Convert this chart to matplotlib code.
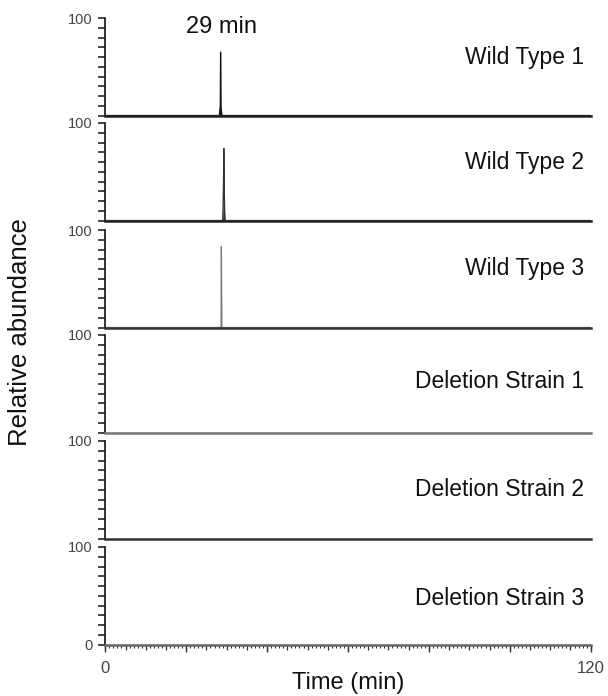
import numpy as np
import matplotlib.pyplot as plt
from matplotlib.ticker import FixedLocator, FuncFormatter, NullLocator

plt.rcParams['font.family'] = ['Liberation Sans', 'DejaVu Sans']

# sample names, one panel each
samples = ["Wild Type 1", "Wild Type 2", "Wild Type 3",
           "Deletion Strain 1", "Deletion Strain 2", "Deletion Strain 3"]

# chromatogram traces (time in min, relative abundance in %)
wt1_time = [0, 28.2, 28.3, 28.42, 28.5, 28.58, 28.7, 28.8, 120]
wt1_int = [0, 0, 6, 9, 65, 9, 6, 0, 0]
wt2_time = [0, 29.0, 29.1, 29.2, 29.3, 29.42, 29.5, 29.6, 120]
wt2_int = [0, 0, 12, 32, 74, 32, 10, 0, 0]
wt3_time = [0, 28.62, 28.7, 28.78, 120]
wt3_int = [0, 0, 83, 0, 0]
del1_time = [0, 120]
del1_int = [0, 0]
del2_time = [0, 120]
del2_int = [0, 0]
del3_time = [0, 120]
del3_int = [0, 0]

traces = [(wt1_time, wt1_int), (wt2_time, wt2_int), (wt3_time, wt3_int),
          (del1_time, del1_int), (del2_time, del2_int), (del3_time, del3_int)]
trace_colors = ["#111111", "#333333", "#777777", "#333333", "#333333", "#333333"]
base_colors = ["#222222", "#222222", "#333333", "#777777", "#333333", "#666666"]
label_y = [0.59, 0.59, 0.61, 0.52, 0.50, 0.47]

y_ticks = np.arange(0, 101, 10)
x_major = np.arange(0, 121, 20)
x_mid = np.arange(0, 121, 5)
x_minor = np.arange(0, 121, 1)

peak_label = "29 min"
peak_time = 28.7

W, H = 608, 696
fig = plt.figure(figsize=(W / 100, H / 100), dpi=100)

left_px, right_px = 105.3, 590.7
tops = [18, 123, 230, 335, 441, 547]
panel_h = 97.5

axes = []
for i, (name, (t, y)) in enumerate(zip(samples, traces)):
    top = tops[i]
    ax = fig.add_axes([left_px / W, 1 - (top + panel_h) / H,
                       (right_px - left_px) / W, panel_h / H])
    ax.fill_between(t, y, color=trace_colors[i], lw=0)
    ax.plot(t, y, color=trace_colors[i], lw=0.9)
    ax.set_xlim(0, 120)
    ax.set_ylim(0, 100)
    for s in ["top", "right"]:
        ax.spines[s].set_visible(False)
    ax.spines["left"].set_linewidth(1.2)
    ax.spines["left"].set_color("#111111")
    ax.spines["bottom"].set_linewidth(1.8)
    ax.spines["bottom"].set_color(base_colors[i])
    shown = [100] if i < 5 else [0, 100]
    ax.yaxis.set_major_locator(FixedLocator(y_ticks))
    ax.yaxis.set_minor_locator(NullLocator())
    ax.yaxis.set_major_formatter(FuncFormatter(
        lambda v, p, shown=shown: f"{v:.0f}" if round(v) in shown else ""))
    ax.tick_params(axis="y", which="major", direction="out", length=5, width=1.1,
                   color="#111111", labelsize=10.5, labelcolor="#444444", pad=4)
    ax.text(0.986, label_y[i], name, transform=ax.transAxes, ha="right", va="center",
            fontsize=16.5, color="#111111")
    if i < 5:
        ax.set_xticks([])
    else:
        ax.xaxis.set_major_locator(FixedLocator(x_major))
        ax.xaxis.set_minor_locator(FixedLocator(x_minor))
        ax.xaxis.set_major_formatter(FuncFormatter(
            lambda v, p: f"{v:.0f}" if round(v) in (0, 120) else ""))
        ax.tick_params(axis="x", which="major", length=5, width=1.0, color="#333333",
                       labelsize=12, labelcolor="#444444", pad=7)
        ax.tick_params(axis="x", which="minor", length=2, width=0.8, color="#333333")
        sec = ax.secondary_xaxis("bottom")
        sec.set_xticks(x_mid)
        sec.set_xticklabels([])
        sec.tick_params(axis="x", length=3.5, width=0.9, color="#333333")
        sec.spines["bottom"].set_visible(False)
    axes.append(ax)

axes[0].text(peak_time, 91, peak_label, ha="center", va="center", fontsize=17,
             color="#111111")

fig.text(348 / W, 1 - 683 / H, "Time (min)", ha="center", va="center",
         fontsize=17, color="#111111")
fig.text(20 / W, 1 - 332 / H, "Relative abundance", rotation=90, ha="center",
         va="center", fontsize=18.5, color="#111111")

fig.savefig("out.png", dpi=100)
